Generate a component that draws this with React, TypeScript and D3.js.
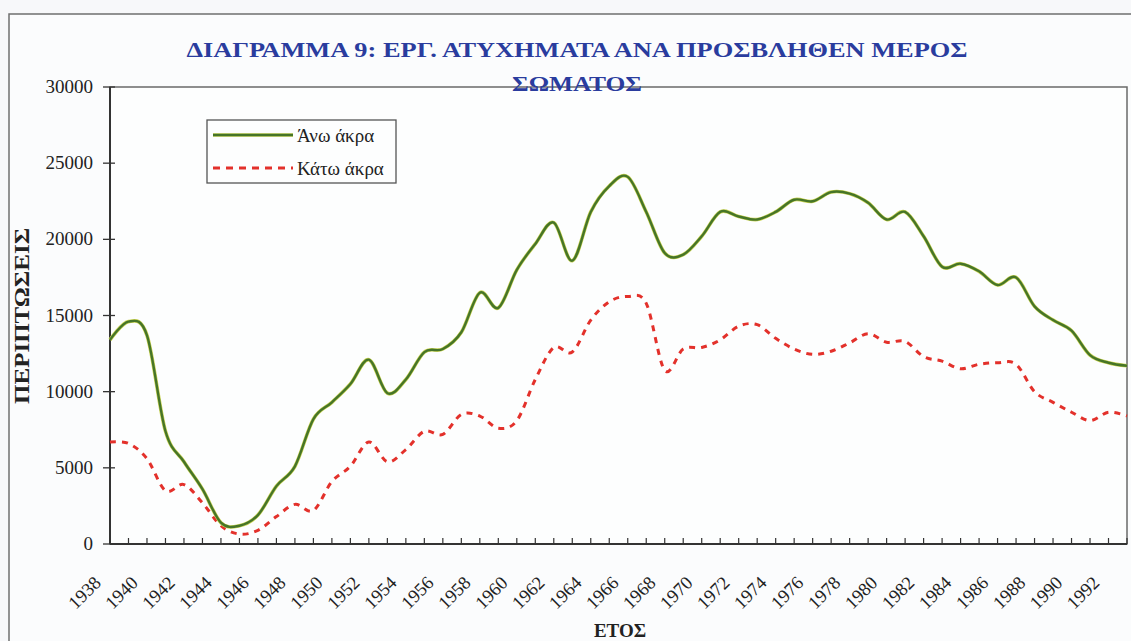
import React from 'react';
import * as d3 from 'd3';

const years = [
  1938, 1939, 1940, 1941, 1942, 1943, 1944, 1945, 1946, 1947,
  1948, 1949, 1950, 1951, 1952, 1953, 1954, 1955, 1956, 1957,
  1958, 1959, 1960, 1961, 1962, 1963, 1964, 1965, 1966, 1967,
  1968, 1969, 1970, 1971, 1972, 1973, 1974, 1975, 1976, 1977,
  1978, 1979, 1980, 1981, 1982, 1983, 1984, 1985, 1986, 1987,
  1988, 1989, 1990, 1991, 1992, 1993,
];

// Άνω άκρα
const upperLimbs = [
  13400, 14600, 13700, 7400, 5400, 3600, 1400, 1200, 1900, 3800,
  5100, 8200, 9300, 10500, 12100, 9900, 10800, 12600, 12800, 13900,
  16500, 15500, 18000, 19700, 21100, 18600, 21800, 23500, 24100, 21800,
  19100, 19000, 20200, 21800, 21500, 21300, 21800, 22600, 22500, 23100,
  23000, 22400, 21300, 21800, 20200, 18200, 18400, 17900, 17000, 17500,
  15600, 14700, 14000, 12400, 11900, 11700,
];

// Κάτω άκρα
const lowerLimbs = [
  6700, 6600, 5600, 3500, 3900, 2700, 1200, 650, 900, 1800,
  2600, 2200, 4100, 5100, 6700, 5400, 6200, 7400, 7200, 8500,
  8400, 7600, 8100, 10800, 12900, 12600, 14700, 15900, 16250, 15800,
  11400, 12800, 12900, 13400, 14300, 14400, 13500, 12800, 12450, 12650,
  13200, 13800, 13250, 13300, 12300, 12000, 11500, 11800, 11900, 11800,
  10000, 9300, 8650, 8100, 8650, 8400,
];

const yTicks = [0, 5000, 10000, 15000, 20000, 25000, 30000];
const xLabels = [
  1938, 1940, 1942, 1944, 1946, 1948, 1950, 1952, 1954, 1956,
  1958, 1960, 1962, 1964, 1966, 1968, 1970, 1972, 1974, 1976,
  1978, 1980, 1982, 1984, 1986, 1988, 1990, 1992,
];

const W = 1131;
const H = 641;
const plot = { left: 110, right: 1127, top: 87, bottom: 544 };
const serif = '"Liberation Serif", "Times New Roman", serif';

const App: React.FC = () => {
  const x = d3.scaleLinear().domain([1938, 1993]).range([plot.left, plot.right]);
  const y = d3.scaleLinear().domain([0, 30000]).range([plot.bottom, plot.top]);

  // Excel-style smoothed line
  const line = d3.line<number>()
    .curve(d3.curveCardinal.tension(0))
    .x((_, i) => x(years[i]))
    .y(d => y(d));

  return (
    <svg width={W} height={H} style={{ position: 'absolute', left: 0, top: 0, background: '#f7f8fa' }}>
      {/* outer chart frame */}
      <rect x={9} y={14} width={W} height={H} fill="#fbfcfd" stroke="#6f6f6f" strokeWidth={1.5} />

      {/* plot frame */}
      <rect x={plot.left} y={plot.top} width={plot.right - plot.left} height={plot.bottom - plot.top}
        fill="#fdfefe" stroke="#6a6a6a" strokeWidth={1.5} />
      <line x1={plot.left} x2={plot.left} y1={plot.top} y2={plot.bottom} stroke="#333" strokeWidth={2} />
      <line x1={plot.left} x2={plot.right} y1={plot.bottom} y2={plot.bottom} stroke="#333" strokeWidth={2} />

      {/* y axis */}
      {yTicks.map(t => (
        <g key={t}>
          <line x1={plot.left - 7} x2={plot.left + 5} y1={y(t)} y2={y(t)} stroke="#333" strokeWidth={1.3} />
          <text x={93} y={y(t) + 6} textAnchor="end" fontFamily={serif} fontSize={19} fill="#222">{t}</text>
        </g>
      ))}

      {/* x axis ticks */}
      {years.map(yr => (
        <line key={yr} x1={x(yr)} x2={x(yr)} y1={plot.bottom - 6} y2={plot.bottom} stroke="#333" strokeWidth={1.2} />
      ))}
      {xLabels.map(yr => (
        <text key={yr} transform={`translate(${x(yr) - 8},${plot.bottom + 40}) rotate(-45)`}
          textAnchor="end" fontFamily={serif} fontSize={18.5} fill="#222">{yr}</text>
      ))}

      {/* series */}
      <path d={line(lowerLimbs) || ''} fill="none" stroke="#e3312b" strokeWidth={3} strokeDasharray="6 6" />
      <path d={line(upperLimbs) || ''} fill="none" stroke="#c9d352" strokeWidth={3.6} />
      <path d={line(upperLimbs) || ''} fill="none" stroke="#467528" strokeWidth={2.4} />

      {/* title */}
      <text x={577} y={57} textAnchor="middle" fontFamily={serif} fontWeight="bold" fontSize={22}
        fill="#2a3c9e" textLength={781} lengthAdjust="spacingAndGlyphs">
        ΔΙΑΓΡΑΜΜΑ 9: ΕΡΓ. ΑΤΥΧΗΜΑΤΑ ΑΝΑ ΠΡΟΣΒΛΗΘΕΝ ΜΕΡΟΣ
      </text>
      <text x={577} y={91} textAnchor="middle" fontFamily={serif} fontWeight="bold" fontSize={22}
        fill="#2a3c9e" textLength={130} lengthAdjust="spacingAndGlyphs">
        ΣΩΜΑΤΟΣ
      </text>

      {/* axis titles */}
      <text transform="translate(29,316) rotate(-90)" textAnchor="middle" fontFamily={serif}
        fontWeight="bold" fontSize={20} fill="#222" textLength={176} lengthAdjust="spacingAndGlyphs">ΠΕΡΙΠΤΩΣΕΙΣ</text>
      <text x={620} y={637} textAnchor="middle" fontFamily={serif} fontWeight="bold" fontSize={19} fill="#222">ΕΤΟΣ</text>

      {/* legend */}
      <rect x={207} y={120} width={189} height={63} fill="#fdfefe" stroke="#555" strokeWidth={1.3} />
      <line x1={213} x2={293} y1={135} y2={135} stroke="#c9d352" strokeWidth={3.6} />
      <line x1={213} x2={293} y1={135} y2={135} stroke="#467528" strokeWidth={2.4} />
      <text x={297} y={142} fontFamily={serif} fontSize={19} fill="#222">Άνω άκρα</text>
      <line x1={213} x2={293} y1={168} y2={168} stroke="#e3312b" strokeWidth={3} strokeDasharray="7 6" />
      <text x={297} y={175} fontFamily={serif} fontSize={19} fill="#222">Κάτω άκρα</text>
    </svg>
  );
};

export default App;
